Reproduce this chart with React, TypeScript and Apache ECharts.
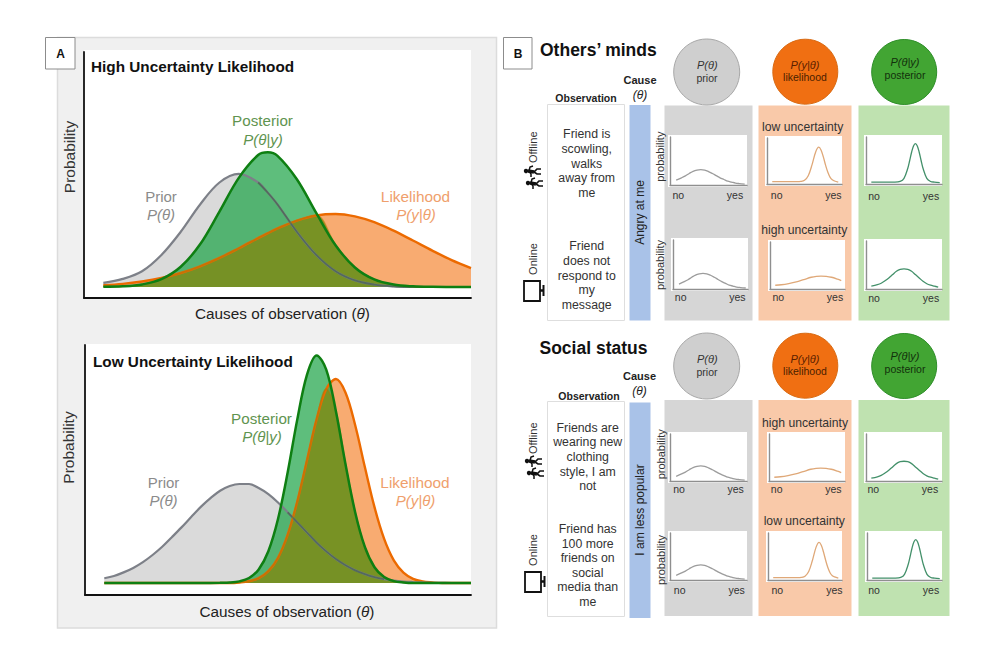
import React, { useEffect, useRef } from "react";
import * as echarts from "echarts";

// ---------- Panel A data ----------
const thetaHigh = [5, 10, 15, 20, 25, 30, 35, 40, 45, 47.5, 50, 55, 60, 65, 70, 75, 80, 85, 90, 95, 100];
const priorHigh = [0.03, 0.06, 0.117, 0.238, 0.41, 0.613, 0.776, 0.84, 0.776, 0.7, 0.613, 0.41, 0.238, 0.117, 0.049, 0.018, 0.005, 0.001, 0, 0, 0];
const likelihoodHigh = [0.013, 0.023, 0.041, 0.067, 0.104, 0.154, 0.216, 0.288, 0.363, 0.4, 0.435, 0.493, 0.531, 0.542, 0.524, 0.481, 0.418, 0.345, 0.27, 0.2, 0.141];
const posteriorHigh = [0.002, 0.005, 0.019, 0.058, 0.15, 0.317, 0.56, 0.81, 0.98, 1, 0.974, 0.8, 0.55, 0.31, 0.145, 0.056, 0.018, 0.005, 0.001, 0, 0];

const thetaLow = [5, 7.5, 10, 12.5, 15, 17.5, 20, 22.5, 25, 27.5, 30, 32.5, 35, 37.5, 40, 42.5, 45, 47.5, 50, 52.5, 55, 57.5, 60, 62.5, 65, 67.5, 70, 72.5, 75, 77.5, 80, 82.5, 85, 87.5, 90, 92.5, 95, 97.5, 100];
const priorLow = [0.035, 0.052, 0.079, 0.112, 0.155, 0.208, 0.269, 0.34, 0.413, 0.49, 0.565, 0.63, 0.685, 0.72, 0.735, 0.735, 0.705, 0.66, 0.598, 0.525, 0.45, 0.375, 0.3, 0.235, 0.178, 0.132, 0.094, 0.066, 0.044, 0.029, 0.018, 0.011, 0.007, 0.004, 0.002, 0.001, 0, 0, 0];
const likelihoodLow = [0, 0, 0, 0, 0, 0, 0, 0, 0, 0, 0, 0, 0, 0, 0.004, 0.013, 0.036, 0.088, 0.187, 0.359, 0.607, 0.912, 1.217, 1.44, 1.515, 1.413, 1.171, 0.861, 0.563, 0.327, 0.168, 0.077, 0.031, 0.011, 0.004, 0, 0, 0, 0];
const posteriorLow = [0, 0, 0, 0, 0, 0, 0, 0, 0, 0, 0, 0, 0.001, 0.003, 0.012, 0.037, 0.101, 0.236, 0.475, 0.82, 1.215, 1.546, 1.69, 1.584, 1.276, 0.88, 0.524, 0.268, 0.117, 0.044, 0.014, 0.004, 0, 0, 0, 0, 0, 0, 0];

// ---------- Panel B small curves ----------
const miniPriorT = [8, 15, 20, 25, 30, 35, 40, 45, 50, 55, 60, 65, 70, 75, 80, 85, 90, 97];
const miniPrior = [0.1, 0.15, 0.19, 0.24, 0.285, 0.31, 0.32, 0.31, 0.28, 0.24, 0.195, 0.15, 0.115, 0.08, 0.06, 0.04, 0.03, 0.02];
const miniLowT = [7, 40, 45, 50, 55, 60, 65, 69, 72, 75, 78, 81, 84, 87, 90, 95];
const miniLow = [0.05, 0.05, 0.055, 0.08, 0.18, 0.415, 0.7, 0.8, 0.74, 0.595, 0.415, 0.26, 0.15, 0.09, 0.065, 0.04];
const miniHighT = [7, 15, 25, 35, 45, 55, 62, 68, 75, 82, 90, 95];
const miniHigh = [0.08, 0.09, 0.115, 0.15, 0.2, 0.25, 0.27, 0.275, 0.27, 0.25, 0.21, 0.18];
const miniPostNarrowT = [7, 38, 45, 50, 55, 57.5, 60, 62.5, 65, 67.5, 70, 72.5, 75, 80, 85, 90, 97];
const miniPostNarrow = [0.04, 0.04, 0.054, 0.12, 0.335, 0.5, 0.675, 0.81, 0.86, 0.81, 0.675, 0.5, 0.335, 0.12, 0.054, 0.04, 0.03];
const miniPostWideT = [7, 15, 20, 25, 30, 35, 40, 45, 50, 55, 60, 65, 70, 75, 80, 85, 90, 95];
const miniPostWide = [0.06, 0.09, 0.12, 0.17, 0.23, 0.3, 0.37, 0.41, 0.42, 0.41, 0.37, 0.3, 0.23, 0.16, 0.11, 0.08, 0.06, 0.04];

const font = '"Liberation Sans", Arial, sans-serif';
const zip = (a: number[], b: number[]) => a.map((x, i) => [x, b[i]]);

const C = {
  prior: "#7d8088", priorFill: "rgba(166,166,166,0.42)",
  lik: "#ec6a00", likFill: "rgba(243,110,10,0.58)",
  post: "#0e7f12", postFill: "rgba(26,162,68,0.7)",
  overlap: "rgba(125,142,28,0.85)",
};

const pxUnit = 134.67;

function bigGrids() {
  return [
    { left: 84, top: 52, width: 387, height: 246, baseline: 287 },
    { left: 85, top: 345, width: 386, height: 250, baseline: 583 },
  ];
}

function bigSeries(gi: number, theta: number[], prior: number[], lik: number[], post: number[]) {
  const overlap = theta.map((t, i) => [t, Math.min(lik[i], post[i])]);
  const hidden = theta.map((t, i) => (post[i] > prior[i] ? [t, prior[i]] : null)).filter(Boolean);
  const base = { type: "line", xAxisIndex: gi, yAxisIndex: gi, smooth: 0.35, symbol: "none", silent: true };
  return [
    { ...base, name: "Likelihood", data: zip(theta, lik), lineStyle: { color: C.lik, width: 2.4 }, areaStyle: { color: C.likFill, opacity: 1 } },
    { ...base, name: "Prior", data: zip(theta, prior), lineStyle: { color: C.prior, width: 2.2 }, areaStyle: { color: C.priorFill, opacity: 1 } },
    { ...base, name: "Posterior fill", data: zip(theta, post), lineStyle: { width: 0 }, areaStyle: { color: C.postFill, opacity: 1 } },
    { ...base, name: "Overlap", data: overlap, lineStyle: { width: 0 }, areaStyle: { color: C.overlap, opacity: 1 } },
    { ...base, name: "Prior under", data: hidden, lineStyle: { color: "#24502c", width: 1.8, opacity: 0.45 } },
    { ...base, name: "Likelihood under", data: overlap, lineStyle: { color: "#a87a08", width: 1.6, opacity: 0.55 } },
    { ...base, name: "Posterior", data: zip(theta, post), lineStyle: { color: C.post, width: 2.5 } },
  ];
}

type Mini = { r: number[]; t: number[]; v: number[]; color: string };
const gC = "#9c9c9c", oC = "#dfa878", pC = "#43906a";
const minis: Mini[] = [
  { r: [668, 135, 747, 187], t: miniPriorT, v: miniPrior, color: gC },
  { r: [671, 238, 748, 291], t: miniPriorT, v: miniPrior, color: gC },
  { r: [765, 136, 842, 186], t: miniLowT, v: miniLow, color: oC },
  { r: [768, 240, 845, 291], t: miniHighT, v: miniHigh, color: oC },
  { r: [864, 135, 942, 186], t: miniPostNarrowT, v: miniPostNarrow, color: pC },
  { r: [864, 239, 942, 291], t: miniPostWideT, v: miniPostWide, color: pC },
  { r: [668, 432, 747, 483], t: miniPriorT, v: miniPrior, color: gC },
  { r: [668, 531, 747, 582], t: miniPriorT, v: miniPrior, color: gC },
  { r: [767, 432, 845, 483], t: miniHighT, v: miniHigh, color: oC },
  { r: [766, 531, 842, 582], t: miniLowT, v: miniLow, color: oC },
  { r: [864, 432, 942, 483], t: miniPostWideT, v: miniPostWide, color: pC },
  { r: [865, 531, 942, 582], t: miniPostNarrowT, v: miniPostNarrow, color: pC },
];

function txt(x: number, y: number, text: string, o: any = {}) {
  return {
    type: "text", x, y, z: 50, rotation: o.rotate ? Math.PI / 2 : 0, silent: true,
    style: {
      text, fontFamily: font, fontSize: o.size ?? 12, fontWeight: o.weight ?? "normal",
      fontStyle: o.italic ? "italic" : "normal", fill: o.color ?? "#333",
      textAlign: o.align ?? "center", textVerticalAlign: "middle", textBaseline: "middle",
      lineHeight: o.lh, rich: o.rich,
    },
  };
}
function box(x0: number, y0: number, x1: number, y1: number, fill: string, stroke?: string, lw = 1) {
  return { type: "rect", z: -5, silent: true, shape: { x: x0, y: y0, width: x1 - x0, height: y1 - y0 }, style: { fill, stroke: stroke ?? "none", lineWidth: lw } };
}
function circle(cx: number, cy: number, r: number, fill: string, stroke: string) {
  return { type: "circle", z: -4, silent: true, shape: { cx, cy, r }, style: { fill, stroke, lineWidth: 1 } };
}
function walker(x: number, y: number) {
  const line = (pts: number[][], w: number) => ({ type: "polyline", z: 40, silent: true, shape: { points: pts }, style: { stroke: "#111", fill: "none", lineWidth: w } });
  return [
    { type: "circle", z: 40, silent: true, shape: { cx: x, cy: y, r: 2.2 }, style: { fill: "#111" } },
    line([[x + 2, y], [x + 8, y + 1]], 3.4),
    line([[x + 8, y + 1], [x + 11, y - 2], [x + 15, y - 2]], 1.7),
    line([[x + 8, y + 1], [x + 11, y + 3], [x + 15, y + 3]], 1.7),
    line([[x + 3, y], [x + 4, y - 4], [x + 7, y - 5]], 1.5),
    line([[x + 3, y], [x + 5, y + 3], [x + 5, y + 6]], 1.5),
  ];
}
function monitor(dx: number, dy: number) {
  return [
    { type: "rect", z: 40, silent: true, shape: { x: 524 + dx, y: 281 + dy, width: 16, height: 20 }, style: { fill: "#fff", stroke: "#111", lineWidth: 1.8 } },
    { type: "line", z: 40, silent: true, shape: { x1: 540 + dx, y1: 290.5 + dy, x2: 543 + dx, y2: 290.5 + dy }, style: { stroke: "#111", lineWidth: 2.5 } },
    { type: "line", z: 40, silent: true, shape: { x1: 543.5 + dx, y1: 285 + dy, x2: 543.5 + dx, y2: 296 + dy }, style: { stroke: "#111", lineWidth: 2 } },
  ];
}
function thetaLabel(x: number, y: number, parts: string[], size: number, color: string) {
  return txt(x, y, `{a|${parts[0]}}{b|θ}{a|${parts[1]}}`, {
    rich: {
      a: { fontFamily: font, fontSize: size, fill: color, color },
      b: { fontFamily: font, fontSize: size, fontStyle: "italic", fill: color, color },
    },
    color,
    size,
  });
}

function buildGraphic() {
  const g: any[] = [];
  // panel A
  g.push(box(57.5, 37.5, 496.5, 628, "#f0f0f0", "#dcdcdc", 1.5));
  g.push(box(84, 50, 471, 298, "#ffffff"));
  g.push(box(85, 344, 471, 595, "#ffffff"));
  g.push({ ...box(45.5, 37.5, 75, 69, "#ffffff", "#8c8c8c", 1), z: 10 });
  g.push(txt(60.5, 53.5, "A", { size: 12, weight: "bold", color: "#111" }));
  g.push({ ...box(503.5, 37.5, 532, 69, "#ffffff", "#8c8c8c", 1), z: 10 });
  g.push(txt(518, 53.5, "B", { size: 12, weight: "bold", color: "#111" }));

  const gT = "#8b8b8b", oT = "#ef9f6d", pT = "#5f9450";
  g.push(txt(91, 66, "High Uncertainty Likelihood", { size: 15.3, weight: "bold", align: "left", color: "#111" }));
  g.push(txt(69, 157, "Probability", { size: 15.5, rotate: true }));
  g.push(thetaLabel(282.5, 313, ["Causes of observation (", ")"], 15.3, "#222"));
  g.push(txt(262.5, 120.5, "Posterior", { size: 15.2, color: pT }));
  g.push(txt(263, 139, "P(θ|y)", { size: 15, italic: true, color: pT }));
  g.push(txt(161, 196, "Prior", { size: 15, color: gT }));
  g.push(txt(161, 214.5, "P(θ)", { size: 15, italic: true, color: gT }));
  g.push(txt(415.5, 196, "Likelihood", { size: 15.4, color: oT }));
  g.push(txt(416, 214.5, "P(y|θ)", { size: 15, italic: true, color: oT }));

  g.push(txt(93, 361, "Low Uncertainty Likelihood", { size: 15.3, weight: "bold", align: "left", color: "#111" }));
  g.push(txt(68.5, 447.5, "Probability", { size: 15.5, rotate: true }));
  g.push(thetaLabel(287, 611.5, ["Causes of observation (", ")"], 15.3, "#222"));
  g.push(txt(261.5, 418, "Posterior", { size: 15.2, color: pT }));
  g.push(txt(262, 436.5, "P(θ|y)", { size: 15, italic: true, color: pT }));
  g.push(txt(163.5, 482, "Prior", { size: 15, color: gT }));
  g.push(txt(163.5, 500.5, "P(θ)", { size: 15, italic: true, color: gT }));
  g.push(txt(415, 482, "Likelihood", { size: 15.4, color: oT }));
  g.push(txt(415.5, 500.5, "P(y|θ)", { size: 15, italic: true, color: oT }));

  // panel B columns
  const cols = (y0: number, y1: number, by0: number, by1: number, oy0: number, oy1: number) => {
    g.push(box(664.5, y0, 752.5, y1, "#d6d6d6"));
    g.push(box(758.5, y0, 851.5, y1, "#f9c9a9"));
    g.push(box(858.5, y0, 949.5, y1, "#bfe2b0"));
    g.push(box(629.5, by0, 650.5, by1, "#a9c2e8"));
    g.push(box(547.5, oy0, 624.5, oy1, "#ffffff", "#dedede", 1));
  };
  cols(105.5, 320.5, 105, 320.5, 104.5, 320.5);
  cols(400, 616, 402.5, 618, 401.5, 616.5);
  minis.forEach((m) => g.push(box(m.r[0], m.r[1], m.r[2], m.r[3], "#ffffff")));

  // circles
  const heads = (dy: number, pd: number) => {
    g.push(circle(706.7, 72 + dy, 33, "#cfcfcf", "#a8a8a8"));
    g.push(circle(805.3, 71.7 + dy, 32.5, "#f06f12", "#d96a12"));
    g.push(circle(904.2, 72 + dy, 32.5, "#42a533", "#2f8f2a"));
    g.push(txt(707.3, 65 + pd, "P(θ)", { size: 11, italic: true, color: "#333" }));
    g.push(txt(707, 78.3 + pd, "prior", { size: 10.5, color: "#333" }));
    g.push(txt(805, 65 + pd, "P(y|θ)", { size: 11, italic: true, color: "#5a1e00" }));
    g.push(txt(805, 77.3 + pd, "likelihood", { size: 10.5, color: "#4a1e00" }));
    g.push(txt(905, 62.3 + pd, "P(θ|y)", { size: 11, italic: true, color: "#12300c" }));
    g.push(txt(905, 75 + pd, "posterior", { size: 10.5, color: "#12300c" }));
  };
  heads(0, 0);
  heads(294, 294);

  // headings
  g.push(txt(540, 50, "Others’ minds", { size: 17.5, weight: "bold", align: "left", color: "#111" }));
  g.push(txt(539.5, 348, "Social status", { size: 17.5, weight: "bold", align: "left", color: "#111" }));
  g.push(txt(640, 79.7, "Cause", { size: 11, weight: "bold", color: "#222" }));
  g.push(txt(640, 94.5, "(θ)", { size: 12, italic: true, color: "#222" }));
  g.push(txt(586, 97.5, "Observation", { size: 10.5, weight: "bold", color: "#222" }));
  g.push(txt(639.5, 376, "Cause", { size: 11, weight: "bold", color: "#222" }));
  g.push(txt(639.5, 391, "(θ)", { size: 12, italic: true, color: "#222" }));
  g.push(txt(589, 396, "Observation", { size: 10.5, weight: "bold", color: "#222" }));

  // observation texts
  const obs: [number, number, string][] = [
    [586.7, 163.5, "Friend is\nscowling,\nwalks\naway from\nme"],
    [586.7, 275.5, "Friend\ndoes not\nrespond to\nmy\nmessage"],
    [587.7, 457, "Friends are\nwearing new\nclothing\nstyle, I am\nnot"],
    [587.7, 565.5, "Friend has\n100 more\nfriends on\nsocial\nmedia than\nme"],
  ];
  obs.forEach(([x, y, t]) => g.push(txt(x, y, t, { size: 12.3, lh: 14.6, color: "#333" })));

  g.push(txt(640, 212.5, "Angry at me", { size: 12, rotate: true, color: "#222" }));
  g.push(txt(640, 510, "I am less popular", { size: 12, rotate: true, color: "#222" }));
  g.push(txt(532.7, 147.3, "Offline", { size: 11, rotate: true }));
  g.push(txt(532.7, 259, "Online", { size: 11, rotate: true }));
  g.push(txt(533.3, 438.3, "Offline", { size: 11, rotate: true }));
  g.push(txt(533.3, 550, "Online", { size: 11, rotate: true }));
  g.push(txt(659.5, 156.7, "probability", { size: 11, rotate: true }));
  g.push(txt(659.5, 265, "probability", { size: 11, rotate: true }));
  g.push(txt(660.5, 454.3, "probability", { size: 11, rotate: true }));
  g.push(txt(660.5, 560, "probability", { size: 11, rotate: true }));

  const noYes: number[][] = [
    [678.3, 735, 195], [680.7, 737.3, 297.3], [776.7, 833.3, 195.3], [778.3, 835, 297.3],
    [874, 931, 196.3], [874, 931, 297.7], [679, 735.7, 489], [679.7, 736.7, 590.3],
    [776.7, 833.3, 489.3], [777.3, 834.3, 590.3], [873.3, 930, 489.3], [874, 931, 590.3],
  ];
  noYes.forEach(([a, b, y]) => {
    g.push(txt(a, y, "no", { size: 10.5 }));
    g.push(txt(b, y, "yes", { size: 10.5 }));
  });
  g.push(txt(802.7, 126.7, "low uncertainty", { size: 12.2 }));
  g.push(txt(804.3, 230, "high uncertainty", { size: 12.2 }));
  g.push(txt(805, 423.3, "high uncertainty", { size: 12.2 }));
  g.push(txt(804.3, 520.7, "low uncertainty", { size: 12.2 }));

  // icons
  g.push(...walker(526, 171), ...walker(528, 183), ...walker(527, 461), ...walker(529, 473));
  g.push(...monitor(0, 0), ...monitor(1, 291));
  return g;
}

function buildOption() {
  const big = bigGrids();
  const grid: any[] = [];
  const xAxis: any[] = [];
  const yAxis: any[] = [];
  const series: any[] = [];
  big.forEach((b, i) => {
    grid.push({ left: b.left, top: b.top, width: b.width, height: b.height, containLabel: false });
    xAxis.push({
      type: "value", gridIndex: i, min: 0, max: 100, show: true,
      axisLine: { show: true, onZero: false, lineStyle: { color: "#111", width: 1.8 } },
      axisTick: { show: false }, axisLabel: { show: false }, splitLine: { show: false },
    });
    yAxis.push({
      type: "value", gridIndex: i,
      min: -(b.top + b.height - b.baseline) / pxUnit, max: (b.baseline - b.top) / pxUnit,
      axisLine: { show: true, onZero: false, lineStyle: { color: "#111", width: 1.8 } },
      axisTick: { show: false }, axisLabel: { show: false }, splitLine: { show: false },
    });
  });
  series.push(...bigSeries(0, thetaHigh, priorHigh, likelihoodHigh, posteriorHigh));
  series.push(...bigSeries(1, thetaLow, priorLow, likelihoodLow, posteriorLow));
  minis.forEach((m, k) => {
    const i = k + 2;
    const [x0, y0, x1, y1] = m.r;
    grid.push({ left: x0 + 2, top: y0 + 2, width: x1 - x0 - 2, height: y1 - y0 - 4, containLabel: false });
    const axis = { show: true, onZero: false, lineStyle: { color: "#8f8f8f", width: 1.4 } };
    xAxis.push({ type: "value", gridIndex: i, min: 0, max: 100, axisLine: axis, axisTick: { show: false }, axisLabel: { show: false }, splitLine: { show: false } });
    yAxis.push({ type: "value", gridIndex: i, min: 0, max: 1, axisLine: axis, axisTick: { show: false }, axisLabel: { show: false }, splitLine: { show: false } });
    series.push({
      type: "line", xAxisIndex: i, yAxisIndex: i, smooth: 0.35, symbol: "none", silent: true,
      data: zip(m.t, m.v), lineStyle: { color: m.color, width: 1.3 },
    });
  });
  return { animation: false, backgroundColor: "#ffffff", tooltip: { show: false }, legend: { show: false }, grid, xAxis, yAxis, series, graphic: { elements: buildGraphic() } };
}

export default function App() {
  const ref = useRef<HTMLDivElement>(null);
  useEffect(() => {
    document.body.style.margin = "0";
    const chart = echarts.init(ref.current!, undefined, { renderer: "svg" });
    chart.setOption(buildOption() as any);
    return () => chart.dispose();
  }, []);
  return <div ref={ref} style={{ width: 1000, height: 645 }} />;
}
